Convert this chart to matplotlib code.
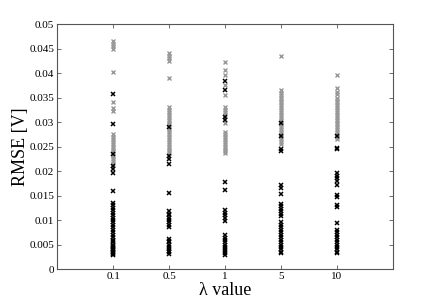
import matplotlib
matplotlib.use('Agg')
import matplotlib.pyplot as plt

lambda_labels = ['0.1', '0.5', '1', '5', '10']

# gray series (upper cluster)
gray_01 = [0.0465, 0.046, 0.0455, 0.045, 0.0402, 0.034, 0.0328, 0.0323,
           0.0275, 0.027, 0.0265, 0.026, 0.0255, 0.025, 0.0245, 0.024,
           0.0235, 0.023, 0.0225, 0.022, 0.0215]
gray_05 = [0.044, 0.0435, 0.043, 0.0425, 0.039, 0.033, 0.0325, 0.032,
           0.0315, 0.031, 0.0305, 0.03, 0.0295, 0.029, 0.0285, 0.028,
           0.0275, 0.027, 0.0265, 0.026, 0.0255, 0.025, 0.0245, 0.024,
           0.0237]
gray_1 = [0.0423, 0.0406, 0.0396, 0.0376, 0.0355, 0.033, 0.0325, 0.032,
          0.0315, 0.0298, 0.028, 0.0275, 0.027, 0.0265, 0.026, 0.0255,
          0.025, 0.0245, 0.024, 0.0237]
gray_5 = [0.0435, 0.0365, 0.036, 0.0355, 0.035, 0.0345, 0.034, 0.0335,
          0.033, 0.0325, 0.032, 0.0315, 0.031, 0.0305, 0.03, 0.0295,
          0.029, 0.0285, 0.028, 0.0275, 0.027, 0.0265, 0.026, 0.0255]
gray_10 = [0.0395, 0.0369, 0.0362, 0.0357, 0.035, 0.0345, 0.034, 0.0335,
           0.033, 0.0325, 0.032, 0.0315, 0.031, 0.0305, 0.03, 0.0295,
           0.029, 0.0285, 0.028, 0.0275, 0.027, 0.0265]

# black series (lower cluster)
black_01 = [0.0358, 0.0295, 0.0235, 0.021, 0.0205, 0.0195, 0.016, 0.0135,
            0.013, 0.0125, 0.012, 0.0115, 0.011, 0.0105, 0.01, 0.0095,
            0.009, 0.0085, 0.008, 0.0075, 0.007, 0.0065, 0.006, 0.0058,
            0.0055, 0.005, 0.0048, 0.0045, 0.0042, 0.004, 0.0038, 0.0035,
            0.0032, 0.003, 0.0028]
black_05 = [0.029, 0.023, 0.0225, 0.0215, 0.0155, 0.0118, 0.0113, 0.011,
            0.0105, 0.01, 0.0095, 0.009, 0.0085, 0.0062, 0.0058, 0.0055,
            0.005, 0.0045, 0.004, 0.0037, 0.0034, 0.0031]
black_1 = [0.0384, 0.0365, 0.031, 0.0305, 0.0178, 0.0161, 0.012, 0.0115,
           0.011, 0.0105, 0.0098, 0.0069, 0.0064, 0.006, 0.0055, 0.005,
           0.0045, 0.004, 0.0036, 0.0032, 0.0029]
black_5 = [0.0298, 0.0271, 0.0245, 0.024, 0.0171, 0.0165, 0.0153, 0.0133,
           0.0128, 0.0123, 0.0118, 0.0113, 0.0108, 0.0097, 0.009, 0.0085,
           0.008, 0.0075, 0.007, 0.0065, 0.006, 0.0055, 0.005, 0.0045,
           0.004, 0.0035, 0.0032]
black_10 = [0.0272, 0.0247, 0.0244, 0.0196, 0.019, 0.0185, 0.018, 0.0171,
            0.0151, 0.0146, 0.0131, 0.0126, 0.0094, 0.008, 0.0075, 0.007,
            0.0065, 0.006, 0.0055, 0.005, 0.0045, 0.004, 0.0035, 0.0032]

gray_sets = [gray_01, gray_05, gray_1, gray_5, gray_10]
black_sets = [black_01, black_05, black_1, black_5, black_10]

plt.rcParams['font.family'] = ['Liberation Serif', 'DejaVu Serif']

fig = plt.figure(figsize=(4.36, 3.04), dpi=100)
ax = fig.add_axes([0.131, 0.115, 0.770, 0.806])

for i, vals in enumerate(gray_sets):
    ax.plot([i + 1] * len(vals), vals, 'x', color='#999999', ms=3.2, mew=1.0)
for i, vals in enumerate(black_sets):
    ax.plot([i + 1] * len(vals), vals, 'x', color='black', ms=3.2, mew=1.1)

ax.set_xlim(0, 6)
ax.set_ylim(0, 0.05)
ax.set_xticks(range(1, 6))
ax.set_xticklabels(lambda_labels)
ax.set_yticks([0, 0.005, 0.01, 0.015, 0.02, 0.025, 0.03, 0.035, 0.04, 0.045, 0.05])
ax.set_yticklabels(['0', '0.005', '0.01', '0.015', '0.02', '0.025', '0.03',
                    '0.035', '0.04', '0.045', '0.05'])
ax.tick_params(direction='in', top=True, right=True, labelsize=8,
               length=3, color='#555555', width=0.6, pad=2)
for s in ax.spines.values():
    s.set_color('#555555')
    s.set_linewidth(0.8)

ax.set_ylabel('RMSE [V]', fontsize=13, labelpad=0)
ax.set_xlabel('λ value', fontsize=13, labelpad=1)

fig.savefig('out.png', dpi=100)
